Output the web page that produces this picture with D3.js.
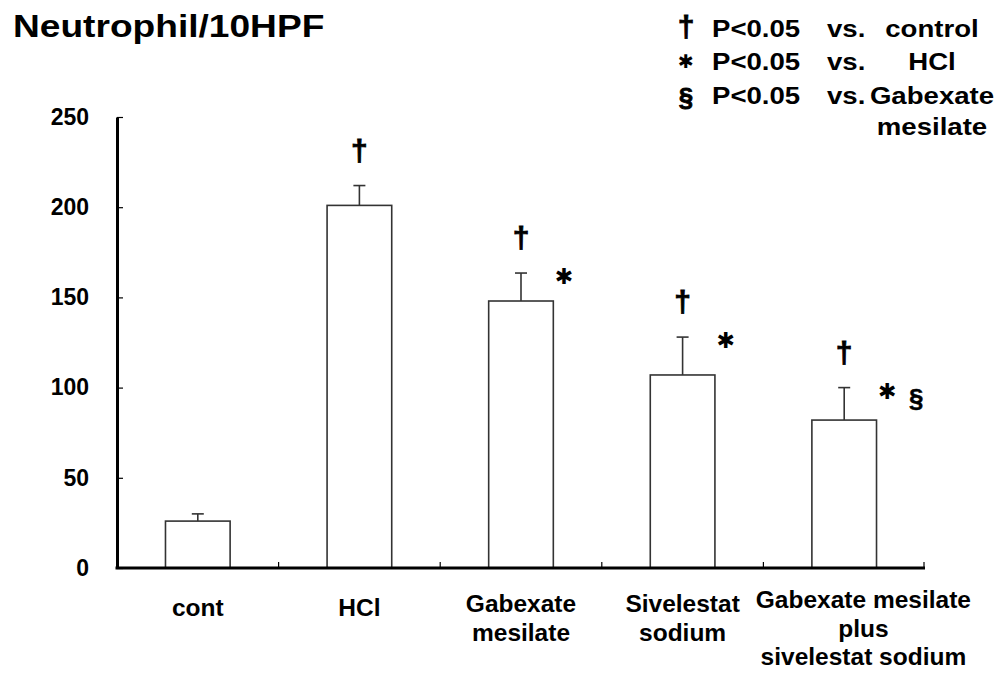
<!DOCTYPE html>
<html>
<head>
<meta charset="utf-8">
<script src="https://cdn.jsdelivr.net/npm/d3@7"></script>
<style>
  body { margin: 0; background: #fff; }
  text { font-family: 'Liberation Sans', Arial, sans-serif; font-weight: bold; fill: #000; }
</style>
</head>
<body>
<div id="chart"></div>
<script>
// values
let categories = ['cont', 'HCl', 'Gabexate mesilate', 'Sivelestat sodium', 'Gabexate mesilate plus sivelestat sodium']
let labelLines = [
  ['cont'],
  ['HCl'],
  ['Gabexate', 'mesilate'],
  ['Sivelestat', 'sodium'],
  ['Gabexate mesilate', 'plus', 'sivelestat sodium']
]
let means = [26, 201, 148, 107, 82]
let errors = [4, 11, 15.5, 21, 18]
let vsControl = [false, true, true, true, true]
let vsHCl = [false, false, true, true, true]
let vsGabexate = [false, false, false, false, true]
let yTicks = [0, 50, 100, 150, 200, 250]
let legendSymbols = ['\u2020', '\u2731', '\u00a7', '']
let legendComparisons = ['control', 'HCl', 'Gabexate', 'mesilate']

let data = categories.map((c, i) => ({
  name: c,
  lines: labelLines[i],
  mean: means[i],
  err: errors[i],
  dagger: vsControl[i],
  star: vsHCl[i],
  section: vsGabexate[i]
}))

let margin = { top: 117, left: 117, right: 79, bottom: 108 }
let width = 1004
let height = 676

let svg = d3
  .select('#chart')
  .append('svg')
  .attr('width', width)
  .attr('height', height)

svg.append('rect').attr('width', width).attr('height', height).attr('fill', '#fff')

let x = d3
  .scaleBand()
  .domain(categories)
  .range([margin.left, width - margin.right])

let y = d3
  .scaleLinear()
  .domain([0, 250])
  .range([height - margin.bottom, margin.top])

let barWidth = x.bandwidth() * 0.4
let cx = d => x(d.name) + x.bandwidth() / 2

// title
svg
  .append('text')
  .attr('transform', 'translate(13,37) scale(1.16,1)')
  .attr('font-size', 32)
  .text('Neutrophil/10HPF')

// legend
let legend = svg.append('g')
let rowY = [37, 70, 104, 135]
legendComparisons.forEach((t, i) => {
  let by = rowY[i]
  let sym = legendSymbols[i]
  if (sym) {
    let isStar = sym === '\u2731'
    legend
      .append('text')
      .attr('transform', `translate(686,${by})`)
      .attr('text-anchor', 'middle')
      .attr('font-size', isStar ? 19 : sym === '\u2020' ? 30 : 26)
      .attr('dy', isStar ? -2 : sym === '\u00a7' ? 2 : 0)
      .attr('stroke', '#000')
      .attr('stroke-width', isStar ? 0 : 0.8)
      .style('font-family', isStar ? 'DejaVu Sans' : null)
      .text(sym)
    legend
      .append('text')
      .attr('transform', `translate(712,${by}) scale(1.2,1)`)
      .attr('font-size', 23)
      .text('P<0.05')
    legend
      .append('text')
      .attr('transform', `translate(827,${by}) scale(1.2,1)`)
      .attr('font-size', 23)
      .text('vs.')
  }
  legend
    .append('text')
    .attr('transform', `translate(932,${by}) scale(1.2,1)`)
    .attr('text-anchor', 'middle')
    .attr('font-size', 23)
    .text(t)
})

// y axis
let yAxis = d3
  .axisLeft(y)
  .tickValues(yTicks)
  .tickSize(-6)
  .tickSizeOuter(0)
  .tickPadding(28)

let yg = svg
  .append('g')
  .attr('transform', `translate(${margin.left},0)`)
  .call(yAxis)
yg.select('.domain').attr('stroke', '#000').attr('stroke-width', 3)
yg.selectAll('.tick line').attr('stroke', '#000').attr('stroke-width', 1.2)
yg.selectAll('.tick text')
  .attr('font-size', 23)
  .attr('font-family', null)
  .attr('fill', '#000')

// bars
svg
  .selectAll('.bar')
  .data(data)
  .enter()
  .append('rect')
  .attr('class', 'bar')
  .attr('x', d => cx(d) - barWidth / 2)
  .attr('y', d => y(d.mean))
  .attr('width', barWidth)
  .attr('height', d => y(0) - y(d.mean))
  .attr('fill', '#fff')
  .attr('stroke', '#333')
  .attr('stroke-width', 1.6)

// error bars
let eb = svg
  .selectAll('.err')
  .data(data)
  .enter()
  .append('g')
  .attr('class', 'err')
  .attr('stroke', '#333')
  .attr('stroke-width', 1.6)
eb.append('line')
  .attr('x1', cx)
  .attr('x2', cx)
  .attr('y1', d => y(d.mean))
  .attr('y2', d => y(d.mean + d.err))
eb.append('line')
  .attr('x1', d => cx(d) - 6)
  .attr('x2', d => cx(d) + 6)
  .attr('y1', d => y(d.mean + d.err))
  .attr('y2', d => y(d.mean + d.err))

// x axis line + category separators
let x0 = x.range()[0]
let x1 = x.range()[1]
svg
  .append('line')
  .attr('x1', x0 - 1.5)
  .attr('x2', x1)
  .attr('y1', y(0))
  .attr('y2', y(0))
  .attr('stroke', '#000')
  .attr('stroke-width', 3)

let bounds = categories.slice(1).map(c => x(c)).concat([x1 - 1])
svg
  .selectAll('.sep')
  .data(bounds)
  .enter()
  .append('line')
  .attr('x1', d => d)
  .attr('x2', d => d)
  .attr('y1', y(0))
  .attr('y2', y(0) - 6)
  .attr('stroke', '#000')
  .attr('stroke-width', 1.2)

// category labels, nudged right when they would run into the previous one
let prevRight = -Infinity
svg
  .selectAll('.cat')
  .data(data)
  .enter()
  .append('text')
  .attr('class', 'cat')
  .attr('text-anchor', 'middle')
  .attr('font-size', 24.5)
  .each(function(d) {
    let t = d3.select(this)
    d.lines.forEach((l, i) => {
      t.append('tspan')
        .attr('x', 0)
        .attr('y', i * 28.5)
        .text(l)
    })
    let w = this.getBBox().width
    let c = cx(d)
    if (c - w / 2 < prevRight + 16) c = prevRight + 16 + w / 2
    prevRight = c + w / 2
    t.attr('transform', `translate(${c},${616 - (d.lines.length - 1) * 4})`)
  })

// significance markers
svg
  .selectAll('.dagger')
  .data(data.filter(d => d.dagger))
  .enter()
  .append('text')
  .attr('class', 'dagger')
  .attr('text-anchor', 'middle')
  .attr('font-size', 30)
  .attr('stroke', '#000')
  .attr('stroke-width', 0.8)
  .attr('x', cx)
  .attr('y', d => y(d.mean + d.err) - 25)
  .text('\u2020')

svg
  .selectAll('.star')
  .data(data.filter(d => d.star))
  .enter()
  .append('text')
  .attr('class', 'star')
  .attr('text-anchor', 'middle')
  .attr('font-size', 22)
  .style('font-family', 'DejaVu Sans')
  .attr('x', d => cx(d) + 43)
  .attr('y', d => y(d.mean + d.err) + 11)
  .text('\u2731')

svg
  .selectAll('.section')
  .data(data.filter(d => d.section))
  .enter()
  .append('text')
  .attr('class', 'section')
  .attr('text-anchor', 'middle')
  .attr('font-size', 26)
  .attr('stroke', '#000')
  .attr('stroke-width', 0.5)
  .attr('x', d => cx(d) + 72)
  .attr('y', d => y(d.mean + d.err) + 19)
  .text('\u00a7')
</script>
</body>
</html>
